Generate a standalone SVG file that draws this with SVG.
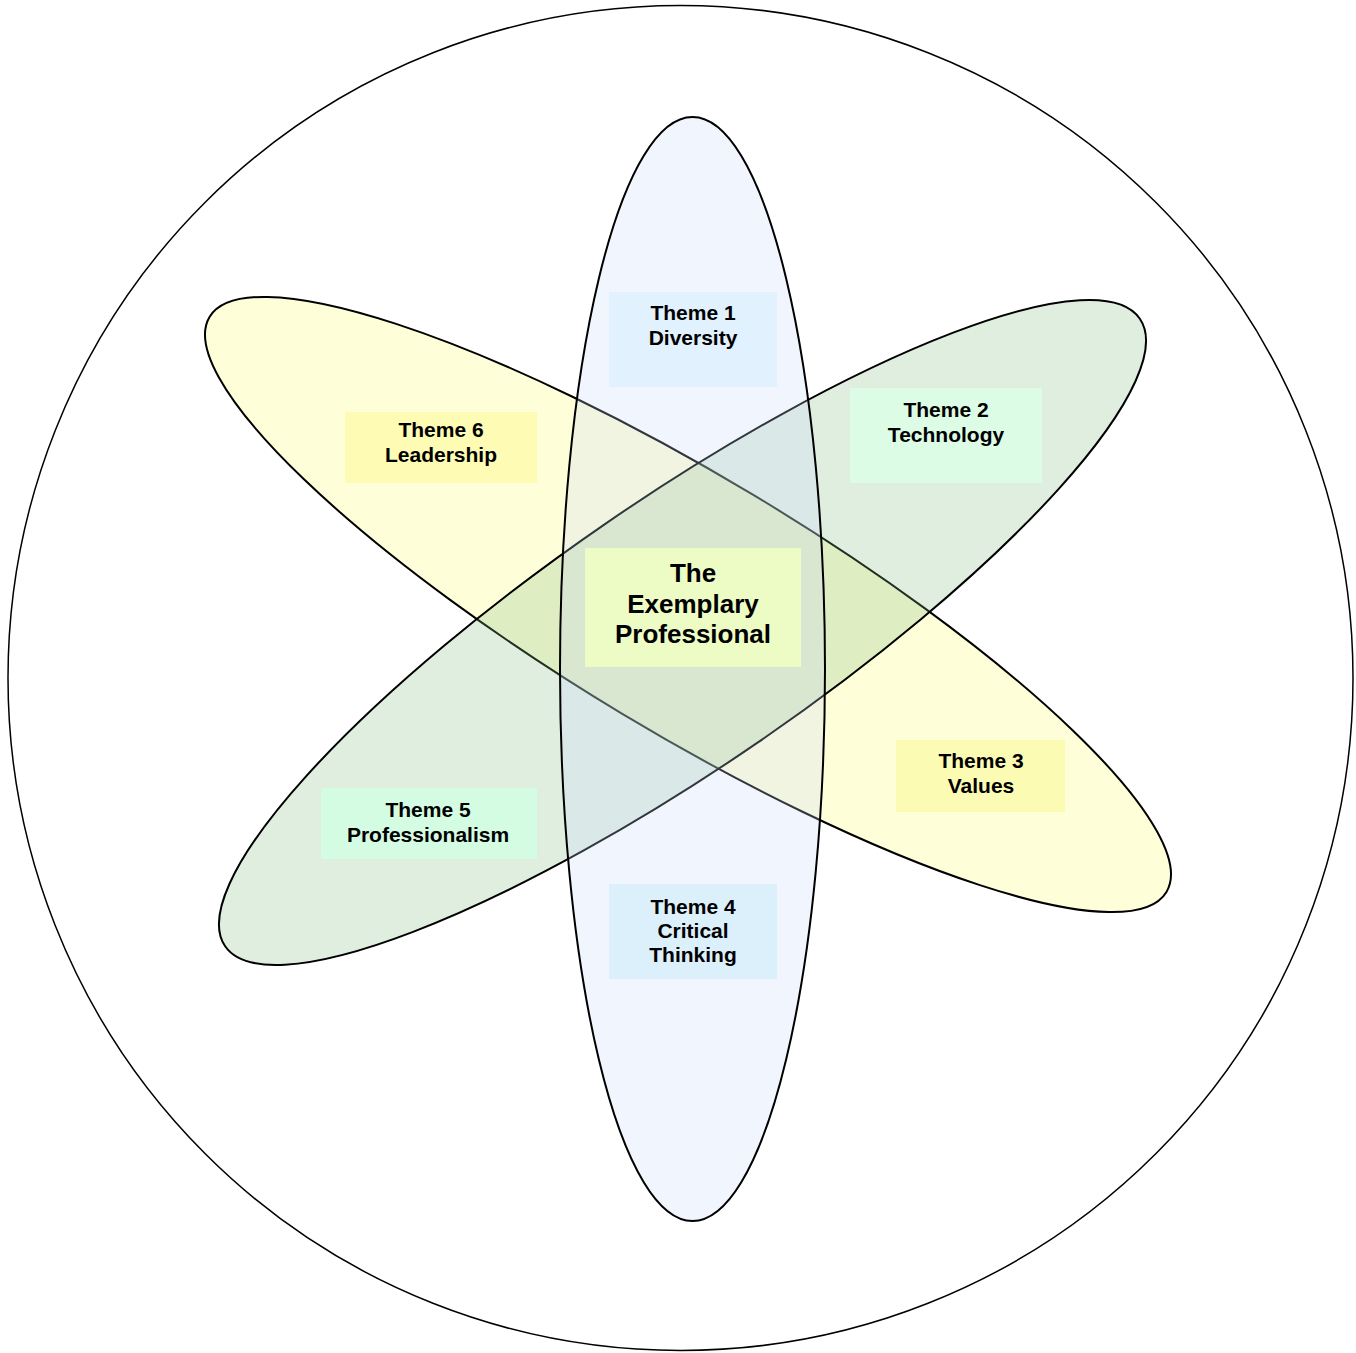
<svg xmlns="http://www.w3.org/2000/svg" width="1356" height="1353" viewBox="0 0 1356 1353">
<style>
.outline{fill:none;stroke:#000;stroke-width:1.5}
.ell{stroke:#000;stroke-width:2;fill-opacity:0.25}
.box{stroke:none}
.t{font-family:"Liberation Sans",Arial,sans-serif;font-weight:bold;font-size:21px;fill:#000;text-anchor:middle}
.tc{font-family:"Liberation Sans",Arial,sans-serif;font-weight:bold;font-size:26px;fill:#000;text-anchor:middle}
</style>
<rect width="1356" height="1353" fill="#fff"/>
<g id="outer-circle"><circle class="outline" cx="680.5" cy="678" r="672.5"/></g>
<g id="ellipses">
<ellipse id="ellipse-yellow" class="ell" fill="#fbfb63" cx="688" cy="604.5" rx="558.2" ry="127.6" transform="rotate(31 688 604.5)"/>
<ellipse id="ellipse-green" class="ell" fill="#83bb83" cx="682.5" cy="632.5" rx="554.6" ry="133.3" transform="rotate(-34.45 682.5 632.5)"/>
<ellipse id="ellipse-blue" class="ell" fill="#c7d7fb" cx="692.5" cy="669" rx="132.5" ry="552"/>
</g>
<g id="connectors"></g>
<g id="theme1"><rect class="box" x="609" y="292" width="168" height="95" fill="#e1f1fd"/><text class="t" x="693" y="320">Theme 1</text><text class="t" x="693" y="345">Diversity</text></g>
<g id="theme2"><rect class="box" x="850" y="388" width="192" height="95" fill="#dcfce6"/><text class="t" x="946" y="417">Theme 2</text><text class="t" x="946" y="442">Technology</text></g>
<g id="theme6"><rect class="box" x="345" y="412" width="192" height="71" fill="#fdfbb4"/><text class="t" x="441" y="437">Theme 6</text><text class="t" x="441" y="462">Leadership</text></g>
<g id="center"><rect class="box" x="585" y="548" width="216" height="119" fill="#ecfcc4"/><text class="tc" x="693" y="582">The</text><text class="tc" x="693" y="613">Exemplary</text><text class="tc" x="693" y="643">Professional</text></g>
<g id="theme5"><rect class="box" x="321" y="788" width="216" height="71" fill="#d4fce2"/><text class="t" x="428" y="817">Theme 5</text><text class="t" x="428" y="842">Professionalism</text></g>
<g id="theme3"><rect class="box" x="896" y="740" width="169" height="72" fill="#fbfbb4"/><text class="t" x="981" y="768">Theme 3</text><text class="t" x="981" y="793">Values</text></g>
<g id="theme4"><rect class="box" x="609" y="884" width="168" height="95" fill="#dcf0fc"/><text class="t" x="693" y="914">Theme 4</text><text class="t" x="693" y="938">Critical</text><text class="t" x="693" y="962">Thinking</text></g>
</svg>
